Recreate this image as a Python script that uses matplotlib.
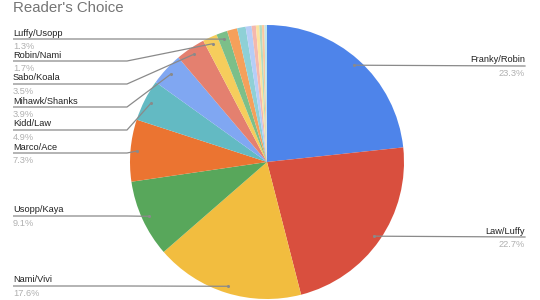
#!/usr/bin/env python
import numpy as np
import matplotlib
matplotlib.use("Agg")
import matplotlib.pyplot as plt

# data, clockwise from 12 o'clock
names = ["Franky/Robin", "Law/Luffy", "Nami/Vivi", "Usopp/Kaya", "Marco/Ace",
         "Kidd/Law", "Mihawk/Shanks", "Sabo/Koala", "Robin/Nami", "Luffy/Usopp",
         "", "", "", "", "", "", "", ""]
values = [23.3, 22.7, 17.6, 9.1, 7.3, 4.9, 3.9, 3.5, 1.7, 1.3,
          1.2, 1.0, 0.7, 0.5, 0.4, 0.3, 0.3, 0.3]
colors = ["#4e84ea", "#d94f3e", "#f2bd3f", "#58a75b", "#eb7431", "#63bac3",
          "#80a7f2", "#e4806f", "#f6cd5c", "#7cbf89", "#f5a05b", "#8ed0d6",
          "#b6cdf7", "#f4b8ae", "#fbe3a0", "#b4dcc0", "#fcc9a0", "#c0e6ea"]

# label layout: side and line y (image pixels, from top)
label_side = {"Franky/Robin": "r", "Law/Luffy": "r", "Nami/Vivi": "l",
              "Usopp/Kaya": "l", "Marco/Ace": "l", "Kidd/Law": "l",
              "Mihawk/Shanks": "l", "Sabo/Koala": "l", "Robin/Nami": "l",
              "Luffy/Usopp": "l"}
label_y = {"Franky/Robin": 66, "Law/Luffy": 237, "Nami/Vivi": 286,
           "Usopp/Kaya": 216, "Marco/Ace": 153, "Kidd/Law": 130,
           "Mihawk/Shanks": 107, "Sabo/Koala": 84, "Robin/Nami": 61,
           "Luffy/Usopp": 39}

W, H = 540, 300
plt.rcParams['font.family'] = ['Liberation Sans', 'DejaVu Sans']

fig = plt.figure(figsize=(W / 100, H / 100), dpi=100)
ax = fig.add_axes([0, 0, 1, 1])

cx, cy, R = 267, H - 162, 137
wedges, _ = ax.pie(values, colors=colors, startangle=90, counterclock=False,
                   center=(cx, cy), radius=R,
                   wedgeprops=dict(linewidth=0))
ax.set_xlim(0, W)
ax.set_ylim(0, H)
ax.set_aspect('equal')
ax.axis('off')

line_c = '#8a8a8a'
fs = 6.7
for w, name, v in zip(wedges, names, values):
    if not name:
        continue
    mid = np.deg2rad((w.theta1 + w.theta2) / 2)
    px = cx + 0.95 * R * np.cos(mid)
    py = cy + 0.95 * R * np.sin(mid)
    ly = H - label_y[name]
    if label_side[name] == "l":
        x0, xe = 13, 127
        ax.plot([x0, xe, px], [ly, ly, py], color=line_c, lw=0.9,
                solid_capstyle='butt')
        ha = 'left'
    else:
        x0 = 525
        ax.plot([x0, px], [ly, py], color=line_c, lw=0.9)
        ha = 'right'
    ax.plot([px], [py], 'o', ms=2.2, color=line_c, mec='none')
    ax.text(x0, ly + 1.5, name, ha=ha, va='bottom', fontsize=fs, color='#222222')
    ax.text(x0, ly - 3, f"{v:.1f}%", ha=ha, va='top', fontsize=fs, color='#b0b0b0')

ax.text(13, H - 1, "Reader's Choice", ha='left', va='top', fontsize=10.8,
        color='#757575')

fig.savefig("out.png", dpi=100)
